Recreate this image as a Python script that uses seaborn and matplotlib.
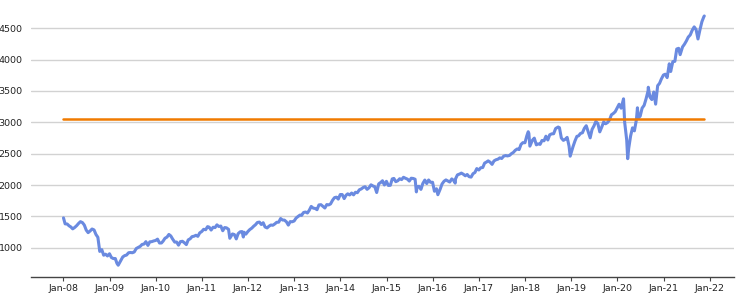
import matplotlib
matplotlib.use("Agg")
import matplotlib.pyplot as plt
import matplotlib.dates as mdates
import seaborn as sns
import pandas as pd

dates = [
 "2008-01-02","2008-01-15","2008-01-31","2008-02-15","2008-02-29","2008-03-15","2008-03-31","2008-04-15","2008-04-30",
 "2008-05-15","2008-05-31","2008-06-15","2008-06-30","2008-07-15","2008-07-31","2008-08-15","2008-08-31","2008-09-15",
 "2008-09-30","2008-10-15","2008-10-31","2008-11-15","2008-11-30","2008-12-15","2008-12-31",
 "2009-01-15","2009-01-31","2009-02-15","2009-02-28","2009-03-10","2009-03-31","2009-04-15","2009-04-30","2009-05-15",
 "2009-05-31","2009-06-15","2009-06-30","2009-07-15","2009-07-31","2009-08-15","2009-08-31","2009-09-15","2009-09-30",
 "2009-10-15","2009-10-31","2009-11-15","2009-11-30","2009-12-15","2009-12-31",
 "2010-01-15","2010-01-31","2010-02-15","2010-02-28","2010-03-15","2010-03-31","2010-04-15","2010-04-30","2010-05-15",
 "2010-05-31","2010-06-15","2010-06-30","2010-07-15","2010-07-31","2010-08-15","2010-08-31","2010-09-15","2010-09-30",
 "2010-10-15","2010-10-31","2010-11-15","2010-11-30","2010-12-15","2010-12-31",
 "2011-01-15","2011-01-31","2011-02-15","2011-02-28","2011-03-15","2011-03-31","2011-04-15","2011-04-30","2011-05-15",
 "2011-05-31","2011-06-15","2011-06-30","2011-07-15","2011-07-31","2011-08-10","2011-08-31","2011-09-15","2011-09-30",
 "2011-10-15","2011-10-31","2011-11-15","2011-11-25","2011-11-30","2011-12-15","2011-12-31",
 "2012-01-15","2012-01-31","2012-02-15","2012-02-29","2012-03-15","2012-03-31","2012-04-15","2012-04-30","2012-05-15",
 "2012-05-31","2012-06-15","2012-06-30","2012-07-15","2012-07-31","2012-08-15","2012-08-31","2012-09-15","2012-09-30",
 "2012-10-15","2012-10-31","2012-11-15","2012-11-30","2012-12-15","2012-12-31",
 "2013-01-15","2013-01-31","2013-02-15","2013-02-28","2013-03-15","2013-03-31","2013-04-15","2013-04-30","2013-05-15",
 "2013-05-31","2013-06-15","2013-06-30","2013-07-15","2013-07-31","2013-08-15","2013-08-31","2013-09-15","2013-09-30",
 "2013-10-15","2013-10-31","2013-11-15","2013-11-30","2013-12-15","2013-12-31",
 "2014-01-15","2014-01-31","2014-02-15","2014-02-28","2014-03-15","2014-03-31","2014-04-15","2014-04-30","2014-05-15",
 "2014-05-31","2014-06-15","2014-06-30","2014-07-15","2014-07-31","2014-08-15","2014-08-31","2014-09-15","2014-09-30",
 "2014-10-15","2014-10-31","2014-11-15","2014-11-30","2014-12-15","2014-12-31",
 "2015-01-15","2015-01-31","2015-02-15","2015-02-28","2015-03-15","2015-03-31","2015-04-15","2015-04-30","2015-05-15",
 "2015-05-31","2015-06-15","2015-06-30","2015-07-15","2015-07-31","2015-08-15","2015-08-25","2015-08-31","2015-09-15",
 "2015-09-30","2015-10-15","2015-10-31","2015-11-15","2015-11-30","2015-12-15","2015-12-31",
 "2016-01-15","2016-01-31","2016-02-11","2016-02-29","2016-03-15","2016-03-31","2016-04-15","2016-04-30","2016-05-15",
 "2016-05-31","2016-06-15","2016-06-27","2016-06-30","2016-07-15","2016-07-31","2016-08-15","2016-08-31","2016-09-15",
 "2016-09-30","2016-10-15","2016-10-31","2016-11-15","2016-11-30","2016-12-15","2016-12-31",
 "2017-01-15","2017-01-31","2017-02-15","2017-02-28","2017-03-15","2017-03-31","2017-04-15","2017-04-30","2017-05-15",
 "2017-05-31","2017-06-15","2017-06-30","2017-07-15","2017-07-31","2017-08-15","2017-08-31","2017-09-15","2017-09-30",
 "2017-10-15","2017-10-31","2017-11-15","2017-11-30","2017-12-15","2017-12-31",
 "2018-01-15","2018-01-26","2018-01-31","2018-02-08","2018-02-28","2018-03-15","2018-03-31","2018-04-15","2018-04-30",
 "2018-05-15","2018-05-31","2018-06-15","2018-06-30","2018-07-15","2018-07-31","2018-08-15","2018-08-31","2018-09-20",
 "2018-09-30","2018-10-15","2018-10-31","2018-11-15","2018-11-30","2018-12-15","2018-12-24","2018-12-31",
 "2019-01-15","2019-01-31","2019-02-15","2019-02-28","2019-03-15","2019-03-31","2019-04-15","2019-04-30","2019-05-15",
 "2019-05-31","2019-06-15","2019-06-30","2019-07-15","2019-07-31","2019-08-15","2019-08-31","2019-09-15","2019-09-30",
 "2019-10-15","2019-10-31","2019-11-15","2019-11-30","2019-12-15","2019-12-31",
 "2020-01-15","2020-01-31","2020-02-19","2020-02-28","2020-03-15","2020-03-23","2020-03-31","2020-04-15","2020-04-30",
 "2020-05-15","2020-05-31","2020-06-08","2020-06-15","2020-06-30","2020-07-15","2020-07-31","2020-08-15","2020-08-31",
 "2020-09-02","2020-09-15","2020-09-30","2020-10-15","2020-10-30","2020-11-15","2020-11-30","2020-12-15","2020-12-31",
 "2021-01-15","2021-01-29","2021-02-15","2021-02-26","2021-03-15","2021-03-31","2021-04-15","2021-04-30","2021-05-12",
 "2021-05-31","2021-06-15","2021-06-30","2021-07-15","2021-07-31","2021-08-15","2021-08-31","2021-09-15","2021-09-30",
 "2021-10-15","2021-10-31","2021-11-15","2021-11-19",
]

values = [
 1475, 1380, 1378, 1349, 1331, 1300, 1323, 1351, 1386,
 1415, 1400, 1360, 1280, 1240, 1267, 1298, 1283, 1210,
 1166, 940, 969, 880, 896, 868, 903,
 843, 826, 827, 750, 720, 798, 852, 873, 882,
 919, 923, 919, 932, 987, 1004, 1021, 1052, 1057,
 1096, 1036, 1093, 1096, 1107, 1115,
 1136, 1074, 1075, 1104, 1150, 1169, 1211, 1187, 1136,
 1089, 1090, 1040, 1096, 1102, 1079, 1049, 1125, 1141,
 1176, 1183, 1198, 1181, 1236, 1258,
 1293, 1286, 1336, 1327, 1281, 1326, 1320, 1364, 1338,
 1345, 1270, 1321, 1316, 1292, 1150, 1219, 1209, 1140,
 1224, 1253, 1257, 1170, 1247, 1216, 1258,
 1289, 1312, 1343, 1366, 1402, 1408, 1370, 1398, 1330,
 1315, 1343, 1362, 1357, 1379, 1405, 1407, 1465, 1441,
 1440, 1412, 1360, 1416, 1413, 1426,
 1472, 1498, 1520, 1515, 1561, 1569, 1553, 1598, 1658,
 1631, 1626, 1606, 1682, 1686, 1661, 1633, 1688, 1682,
 1698, 1757, 1798, 1806, 1775, 1848,
 1848, 1783, 1838, 1859, 1841, 1872, 1843, 1884, 1877,
 1924, 1937, 1960, 1973, 1931, 1955, 2003, 1985, 1972,
 1880, 2018, 2039, 2068, 2000, 2059,
 1993, 1995, 2097, 2105, 2053, 2068, 2100, 2086, 2123,
 2107, 2094, 2063, 2108, 2104, 2092, 1890, 1972, 1979,
 1930, 2024, 2079, 2023, 2080, 2043, 2044,
 1900, 1940, 1845, 1932, 2016, 2060, 2081, 2065, 2047,
 2097, 2072, 2030, 2099, 2162, 2174, 2190, 2171, 2147,
 2168, 2133, 2126, 2180, 2199, 2262, 2239,
 2275, 2279, 2350, 2364, 2385, 2363, 2329, 2384, 2402,
 2412, 2433, 2423, 2459, 2470, 2464, 2472, 2500, 2519,
 2553, 2575, 2565, 2648, 2676, 2674,
 2786, 2850, 2824, 2620, 2714, 2748, 2641, 2656, 2648,
 2711, 2705, 2779, 2718, 2801, 2816, 2818, 2902, 2925,
 2914, 2750, 2712, 2730, 2760, 2620, 2460, 2507,
 2610, 2704, 2776, 2784, 2822, 2834, 2905, 2946, 2850,
 2752, 2887, 2942, 3014, 2980, 2848, 2926, 3007, 2977,
 2996, 3038, 3120, 3141, 3169, 3231,
 3289, 3226, 3375, 3000, 2720, 2420, 2585, 2783, 2912,
 2864, 3044, 3232, 3067, 3100, 3227, 3271, 3373, 3500,
 3560, 3402, 3363, 3484, 3290, 3585, 3622, 3695, 3756,
 3768, 3714, 3934, 3811, 3969, 3973, 4170, 4181, 4080,
 4204, 4246, 4298, 4360, 4395, 4468, 4523, 4480, 4330,
 4471, 4605, 4683, 4697,
]

ref_level = 3050

df = pd.DataFrame({"date": pd.to_datetime(dates), "value": values})
ref_df = pd.DataFrame({"date": [df["date"].iloc[0], df["date"].iloc[-1]],
                       "value": [ref_level, ref_level]})

sns.set_theme(style="white")
plt.rcParams['font.family'] = ['DejaVu Sans']

fig = plt.figure(figsize=(7.39, 2.96), dpi=100)
ax = fig.add_axes([31/739, 19/296, 703/739, 277/296])

ax.grid(axis="y", color="#d2d2d2", linewidth=1.0, linestyle="-")
ax.set_axisbelow(True)

sns.lineplot(data=df, x="date", y="value", ax=ax, color="#6a8ae0", linewidth=2.2)
sns.lineplot(data=ref_df, x="date", y="value", ax=ax, color="#f07a00", linewidth=1.8)

ax.set_ylim(532, 4952)
ax.set_xlim(pd.Timestamp("2007-04-20"), pd.Timestamp("2022-07-12"))
ax.set_yticks([1000, 1500, 2000, 2500, 3000, 3500, 4000, 4500])
ax.xaxis.set_major_locator(mdates.YearLocator())
ax.xaxis.set_major_formatter(mdates.DateFormatter("%b-%y"))

ax.set_xlabel("")
ax.set_ylabel("")
for s in ["top", "right", "left"]:
    ax.spines[s].set_visible(False)
ax.spines["bottom"].set_color("#444444")
ax.spines["bottom"].set_linewidth(1.0)
ax.tick_params(axis="x", length=3, width=0.8, color="#444444", labelsize=6.8, labelcolor="#222222", pad=2, bottom=True)
ax.tick_params(axis="y", length=0, labelsize=6.8, labelcolor="#222222", pad=6)

fig.savefig("out.png", dpi=100)
